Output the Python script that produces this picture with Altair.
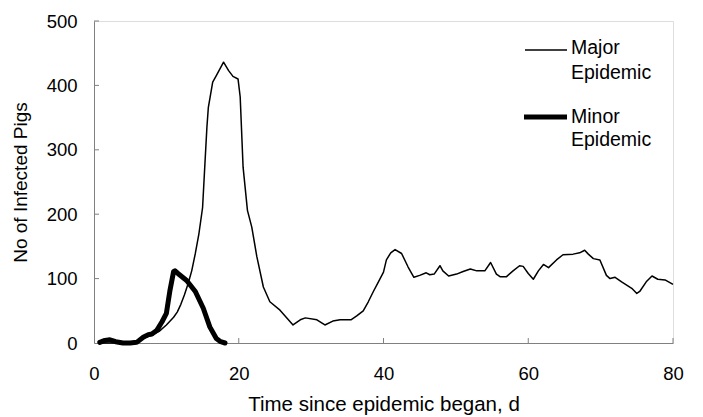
import altair as alt
import pandas as pd

# Major epidemic (thin line)
major_day = [1, 2, 3, 4, 5, 6, 7, 8, 9, 10, 11, 11.5, 12, 12.5, 13, 13.5, 14, 14.5, 15,
             15.3, 15.6, 15.8, 16.4, 16.9, 17.9, 18.6, 19.2, 19.9, 20.2, 20.6, 21.2, 21.8,
             22.5, 23.4, 24.3, 25.7, 27.5, 28.5, 29.2, 30.8, 31.9, 33, 34, 35.5, 36.3, 37.2,
             37.9, 38.6, 39.3, 40, 40.4, 41, 41.6, 42.5, 43.4, 44.2, 45, 45.9, 46.4, 47,
             47.8, 48.2, 49, 50.1, 51, 52, 52.9, 54, 54.8, 55.6, 56.1, 57, 57.9, 58.8, 59.3,
             60, 60.7, 61.4, 62.1, 62.8, 63.9, 64.8, 66.2, 67.1, 67.8, 68.3, 69, 69.9, 70.8,
             71.3, 72, 72.9, 74.3, 75, 75.4, 76.3, 77.1, 77.9, 78.9, 80]
major_val = [0, 0, 0, 0, 1, 3, 8, 12, 18, 28, 40, 48, 60, 75, 92, 112, 139, 170, 210,
             273, 335, 366, 405, 415, 436, 423, 414, 410, 382, 273, 206, 180,
             134, 87, 64, 51, 28, 36, 39, 36, 28, 34, 36, 36, 42, 50,
             64, 80, 95, 110, 129, 140, 145, 139, 118, 102, 105, 109, 106, 107,
             120, 112, 104, 107, 111, 115, 112, 112, 125, 107, 103, 103, 112, 120, 119,
             108, 99, 112, 122, 117, 129, 137, 138, 140, 144, 138, 131, 129, 105,
             100, 102, 95, 85, 77, 80, 95, 104, 99, 98, 91]

# Minor epidemic (thick line)
minor_day = [0.8, 1.5, 2.2, 3, 4, 5, 5.9, 6.8, 7.5, 8, 8.7, 9.4, 10, 10.5, 11, 11.2,
             11.6, 12.8, 14, 15.1, 16, 16.9, 17.5, 18.1]
minor_val = [1, 4, 5, 2, 0, 0, 1, 9, 13, 14, 20, 33, 46, 82, 111, 112,
             108, 97, 80, 54, 25, 7, 2, 0]

x_ticks = [0, 20, 40, 60, 80]
y_ticks = [0, 100, 200, 300, 400, 500]

FONT = "Liberation Sans"
W, H = 579, 322

major_df = pd.DataFrame({"day": major_day, "n": major_val})
minor_df = pd.DataFrame({"day": minor_day, "n": minor_val})

xscale = alt.Scale(domain=[0, 80], nice=False)
yscale = alt.Scale(domain=[0, 500], nice=False)

xaxis = alt.Axis(values=x_ticks, title="Time since epidemic began, d", ticks=False,
                 grid=False, labelPadding=21, titlePadding=12, labelFontSize=18.5,
                 titleFontSize=20.5, labelFont=FONT, titleFont=FONT, domainColor="#808080",
                 labelColor="black", titleColor="black", titleFontWeight="normal",
                 labelFlush=False)
yaxis = alt.Axis(values=y_ticks, title="No of Infected Pigs", ticks=False, grid=False,
                 labelPadding=17, titlePadding=16, labelFontSize=18.5, titleFontSize=19,
                 labelFont=FONT, titleFont=FONT, domainColor="#808080",
                 labelColor="black", titleColor="black", titleFontWeight="normal",
                 labelFlush=False)

major = alt.Chart(major_df).mark_line(color="black", strokeWidth=1.5, strokeJoin="round").encode(
    x=alt.X("day:Q", scale=xscale, axis=xaxis),
    y=alt.Y("n:Q", scale=yscale, axis=yaxis),
)
minor = alt.Chart(minor_df).mark_line(color="black", strokeWidth=5, strokeJoin="round",
                                      strokeCap="round").encode(
    x=alt.X("day:Q", scale=xscale),
    y=alt.Y("n:Q", scale=yscale),
)

# inward tick marks
xt = alt.Chart(pd.DataFrame({"v": x_ticks[1:]})).mark_rule(color="#808080", strokeWidth=1).encode(
    x=alt.X("v:Q", scale=xscale), y=alt.value(H), y2=alt.value(H - 5))
yt = alt.Chart(pd.DataFrame({"v": y_ticks[1:]})).mark_rule(color="#808080", strokeWidth=1).encode(
    y=alt.Y("v:Q", scale=yscale), x=alt.value(0), x2=alt.value(5))

# legend
leg_major = alt.Chart(pd.DataFrame({"a": [0]})).mark_rule(color="black", strokeWidth=1.5).encode(
    x=alt.value(431), x2=alt.value(473), y=alt.value(29))
leg_minor = alt.Chart(pd.DataFrame({"a": [0]})).mark_rule(color="black", strokeWidth=5).encode(
    x=alt.value(430), x2=alt.value(473), y=alt.value(96))
leg_text = alt.Chart(pd.DataFrame({
    "t": ["Major", "Epidemic", "Minor", "Epidemic"],
    "yy": [27, 51.5, 95.5, 119],
})).mark_text(align="left", baseline="middle", font=FONT, fontSize=19.5, color="black").encode(
    x=alt.value(477), y=alt.Y("yy:Q", scale=None), text="t:N")

chart = alt.layer(major, minor, xt, yt, leg_major, leg_minor, leg_text).properties(
    width=W, height=H,
    autosize=alt.AutoSizeParams(type="none"),
    padding={"left": 86, "top": 13, "right": 20, "bottom": 72},
).configure_view(stroke=None).configure(background="white")

chart.save("out.html", embed_options={"renderer": "svg", "actions": False})
